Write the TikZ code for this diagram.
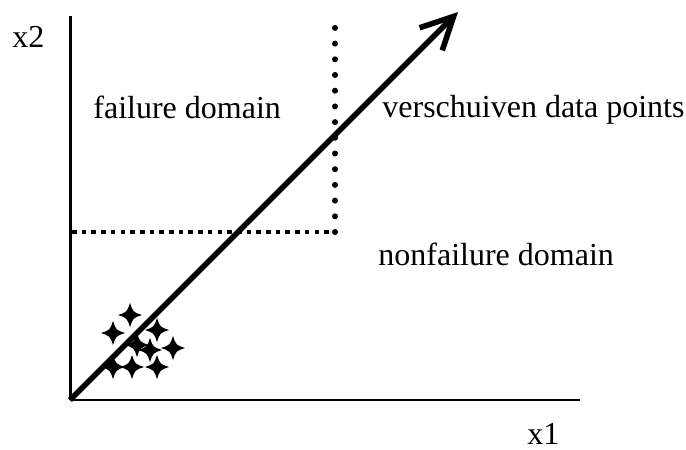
\documentclass[tikz,border=0pt]{standalone}
\usepackage{fontspec}
\setmainfont{Liberation Serif}
\usetikzlibrary{arrows.meta, positioning}
\tikzset{
  lbl/.style={inner sep=0pt, font=\fontsize{16}{19}\selectfont, anchor=base west},
  sqdots/.style={line width=2.3pt, dash pattern=on 2.3pt off 2.55pt},
  rddots/.style={line width=3pt, line cap=round, dash pattern=on 0pt off 7.85pt},
  sparkle/.pic={
    \fill (0,12) .. controls (3,3) .. (12,0) .. controls (3,-3) .. (0,-12)
      .. controls (-3,-3) .. (-12,0) .. controls (-3,3) .. (0,12) -- cycle;
  }
}

\begin{document}
\begin{tikzpicture}[x=0.5pt, y=-0.5pt]
  \useasboundingbox (0,0) rectangle (686,450);
  % axes
  \coordinate (O) at (70,400);
  \coordinate (ytop) at (70,16);
  \coordinate (xend) at (580,400);
  \draw[line width=1.5pt] (O) -- (ytop);
  \draw[line width=1pt] (O) -- (xend);
  \node[lbl] (x2) at (12,47) {x2};
  \node[lbl] (x1) at (527,444) {x1};
  % limit state
  \coordinate (ylim) at (72,232);
  \coordinate (corner) at (335,232);
  \coordinate (vtop) at (335,14);
  \draw[sqdots] (ylim) -- (corner);
  \draw[rddots] (corner) -- (vtop);
  % domains
  \node[lbl] (fail) at (93,118) {failure domain};
  \node[lbl] (shift) at (382,117) {verschuiven data points};
  \node[lbl] (safe) at (378,265) {nonfailure domain};
  % data points
  \foreach \px/\py in {130/315, 113/333, 157/330, 137/345, 150/350, 173/348, 113/367, 132/367, 157/367}
    \pic at (\px,\py) {sparkle};
  % shift direction
  \coordinate (tip) at (458,12);
  \draw[line width=2.8pt, -{Straight Barb[length=16pt, width=16pt]}] (O) -- (tip);
\end{tikzpicture}
\end{document}
